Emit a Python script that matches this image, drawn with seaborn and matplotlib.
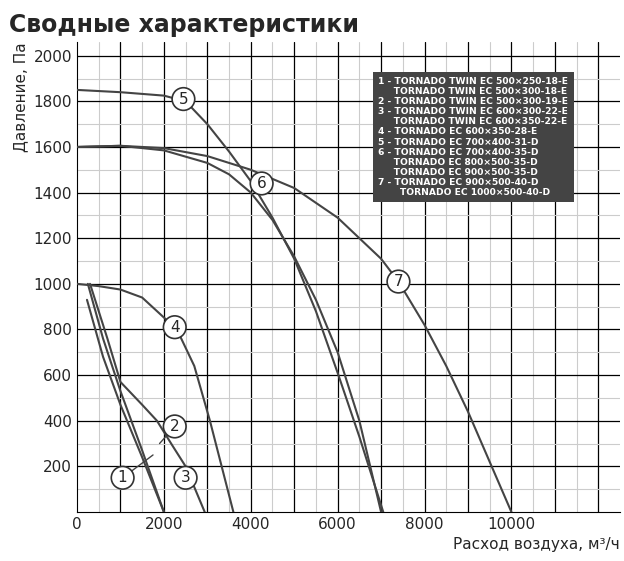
import matplotlib
matplotlib.use("Agg")
import matplotlib.pyplot as plt
import seaborn as sns
import pandas as pd

c1_x = [230, 600, 1000, 1500, 2000]
c1_y = [930, 680, 470, 240, 0]
c2_x = [250, 600, 1000, 1500, 2000]
c2_y = [1000, 760, 530, 270, 0]
c3_x = [300, 700, 1000, 1500, 1840, 2200, 2500, 2940]
c3_y = [1000, 760, 570, 470, 400, 290, 200, 0]
c4_x = [0, 500, 1000, 1500, 1900, 2300, 2700, 3060, 3330, 3600]
c4_y = [1000, 990, 975, 940, 870, 800, 640, 400, 200, 0]
c5_x = [0, 1000, 2000, 2500, 3000, 3500, 4000, 4500, 5000, 5500, 6000, 6500, 7050]
c5_y = [1850, 1840, 1825, 1800, 1700, 1580, 1450, 1290, 1110, 880, 610, 330, 0]
c6_x = [0, 1000, 2000, 3000, 3500, 4000, 4500, 5000, 5500, 6000, 6500, 7000]
c6_y = [1600, 1605, 1585, 1530, 1480, 1400, 1280, 1120, 930, 700, 400, 0]
c7_x = [0, 1000, 2000, 3000, 4000, 5000, 6000, 7000, 7400, 8000, 8500, 9000, 9500, 10000]
c7_y = [1600, 1605, 1595, 1560, 1500, 1420, 1290, 1110, 1010, 820, 640, 440, 220, 0]

labels = ["1", "2", "3", "4", "5", "6", "7"]
label_x = [1050, 2250, 2500, 2250, 2450, 4250, 7400]
label_y = [150, 375, 150, 810, 1810, 1440, 1010]

legend_text = ("1 - TORNADO TWIN EC 500×250-18-E\n"
               "     TORNADO TWIN EC 500×300-18-E\n"
               "2 - TORNADO TWIN EC 500×300-19-E\n"
               "3 - TORNADO TWIN EC 600×300-22-E\n"
               "     TORNADO TWIN EC 600×350-22-E\n"
               "4 - TORNADO EC 600×350-28-E\n"
               "5 - TORNADO EC 700×400-31-D\n"
               "6 - TORNADO EC 700×400-35-D\n"
               "     TORNADO EC 800×500-35-D\n"
               "     TORNADO EC 900×500-35-D\n"
               "7 - TORNADO EC 900×500-40-D\n"
               "       TORNADO EC 1000×500-40-D")

sns.set_style("white")
fig = plt.figure(figsize=(6.24, 5.61), dpi=100)
ax = fig.add_axes([77/624, 49/561, 543/624, 470/561])

curves = [(c1_x, c1_y), (c2_x, c2_y), (c3_x, c3_y), (c4_x, c4_y),
          (c5_x, c5_y), (c6_x, c6_y), (c7_x, c7_y)]
for i, (xs, ys) in enumerate(curves):
    df = pd.DataFrame({"x": xs, "y": ys})
    sns.lineplot(data=df, x="x", y="y", sort=False, ax=ax, color="#444444",
                 linewidth=1.5, zorder=3)

ax.set_xlim(0, 12500)
ax.set_ylim(0, 2060)
for v in range(500, 12500, 1000):
    ax.axvline(v, color="#cccccc", lw=0.8, zorder=1)
for v in range(1000, 12500, 1000):
    ax.axvline(v, color="black", lw=0.9, zorder=1)
for v in range(100, 2060, 200):
    ax.axhline(v, color="#cccccc", lw=0.8, zorder=1)
for v in range(200, 2060, 200):
    ax.axhline(v, color="black", lw=0.9, zorder=1)

# leader lines for label 1
ax.plot([1050, 1750], [150, 250], color="#444444", lw=1, zorder=3)
ax.plot([1050, 1820], [150, 380], color="#444444", lw=0, zorder=3)
ax.plot([1900, 2250], [300, 375], color="#444444", lw=1, zorder=3)

for t, lx, ly in zip(labels, label_x, label_y):
    ax.text(lx, ly, t, ha="center", va="center", fontsize=11, zorder=5,
            bbox=dict(boxstyle="circle,pad=0.25", fc="white", ec="#333333", lw=1.2))

ax.text(0.555, 0.925, legend_text, transform=ax.transAxes, ha="left", va="top",
        fontsize=6.6, fontweight="bold", color="white", linespacing=1.15, zorder=6,
        bbox=dict(boxstyle="square,pad=0.6", fc="#444444", ec="none"))

ax.set_xticks([0, 2000, 4000, 6000, 8000, 10000])
ax.set_xticklabels(["0", "2000", "4000", "6000", "8000", "10000"])
ax.set_yticks(range(200, 2001, 200))
ax.tick_params(labelsize=11, length=0)
ax.set_xlabel("Расход воздуха, м³/ч", fontsize=11, loc="right")
ax.set_ylabel("Давление, Па", fontsize=11, loc="top")
for s in ["top", "right"]:
    ax.spines[s].set_visible(False)
ax.spines["left"].set_color("black")
ax.spines["bottom"].set_color("black")
fig.text(0.015, 0.955, "Сводные характеристики", fontsize=17, fontweight="bold",
         ha="left", va="center")
fig.savefig("out.png", dpi=100)
